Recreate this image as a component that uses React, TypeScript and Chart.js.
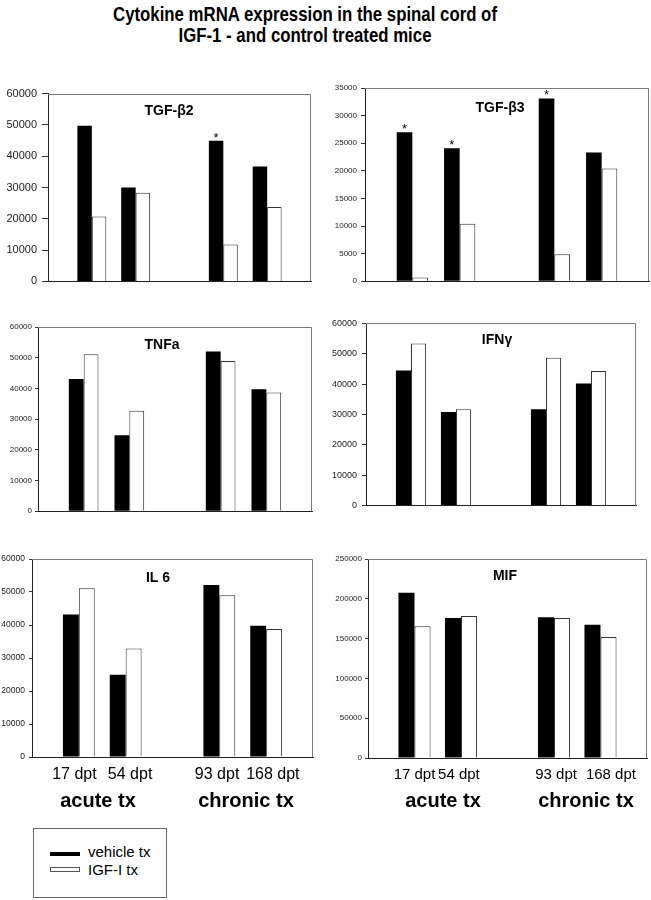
import React, { useEffect, useRef } from 'react';
import { Chart, registerables } from 'chart.js';

Chart.register(...registerables);

// ---------- data ----------
const categories = ['', '17 dpt', '54 dpt', '', '93 dpt', '168 dpt', ''];

const tgfb2Vehicle = [null, 49700, 30000, null, 44900, 36700, null];
const tgfb2Igf = [null, 20700, 28300, null, 11800, 23800, null];

const tgfb3Vehicle = [null, 27000, 24100, null, 33100, 23300, null];
const tgfb3Igf = [null, 650, 10400, null, 4900, 20400, null];

const tnfVehicle = [null, 43100, 24700, null, 52000, 39700, null];
const tnfIgf = [null, 51100, 32700, null, 48900, 38700, null];

const ifnVehicle = [null, 44500, 30800, null, 31700, 40200, null];
const ifnIgf = [null, 53400, 31700, null, 48700, 44300, null];

const il6Vehicle = [null, 43200, 24900, null, 52100, 39800, null];
const il6Igf = [null, 51100, 32900, null, 49000, 38800, null];

const mifVehicle = [null, 207700, 175900, null, 176700, 167500, null];
const mifIgf = [null, 165400, 178400, null, 175900, 152000, null];

const seriesNames = ['vehicle tx', 'IGF-I tx'];
const groupLabels = ['acute tx', 'chronic tx'];
const titleLines = ['Cytokine mRNA expression in the spinal cord of', 'IGF-1 - and control treated mice'];

// ---------- layout ----------
const SANS = '"Liberation Sans", Arial, Helvetica, sans-serif';

type PanelCfg = {
  title: string;
  vehicle: (number | null)[];
  igf: (number | null)[];
  max: number;
  step: number;
  stars: number[];
  panelLeft: number;
  area: { l: number; t: number; r: number; b: number };
  yFont: number;
  tickLen: number;
  tickPad: number;
  catPct: number;
  showX: boolean;
  xFont: number;
  xPad: number[]; // spaces to nudge tick text: + leading, - trailing
  titleX: number;
  titleY: number;
};

const panels: PanelCfg[] = [
  {
    title: 'TGF-\u03b22', vehicle: tgfb2Vehicle, igf: tgfb2Igf, max: 60000, step: 10000, stars: [4],
    panelLeft: 0, area: { l: 48, t: 92, r: 311, b: 292 }, yFont: 11, tickLen: 6, tickPad: 5,
    catPct: 0.66, showX: false, xFont: 16, xPad: [0, 0, 0, 0, 0, 0, 0], titleX: 169, titleY: 115,
  },
  {
    title: 'TGF-\u03b23', vehicle: tgfb3Vehicle, igf: tgfb3Igf, max: 35000, step: 5000, stars: [1, 2, 4],
    panelLeft: 330, area: { l: 365, t: 88, r: 649, b: 289 }, yFont: 8, tickLen: 4, tickPad: 4,
    catPct: 0.66, showX: false, xFont: 15, xPad: [0, 0, 0, 0, 0, 0, 0], titleX: 500, titleY: 112,
  },
  {
    title: 'TNFa', vehicle: tnfVehicle, igf: tnfIgf, max: 60000, step: 10000, stars: [],
    panelLeft: 0, area: { l: 38, t: 327, r: 312, b: 518 }, yFont: 8, tickLen: 3, tickPad: 3,
    catPct: 0.65, showX: false, xFont: 16, xPad: [0, 0, 0, 0, 0, 0, 0], titleX: 162, titleY: 349,
  },
  {
    title: 'IFN\u03b3', vehicle: ifnVehicle, igf: ifnIgf, max: 60000, step: 10000, stars: [],
    panelLeft: 330, area: { l: 366, t: 323, r: 636, b: 515 }, yFont: 9, tickLen: 4, tickPad: 5,
    catPct: 0.67, showX: false, xFont: 15, xPad: [0, 0, 0, 0, 0, 0, 0], titleX: 497, titleY: 344,
  },
  {
    title: 'IL 6', vehicle: il6Vehicle, igf: il6Igf, max: 60000, step: 10000, stars: [],
    panelLeft: 0, area: { l: 32, t: 559, r: 313, b: 757 }, yFont: 8.5, tickLen: 3, tickPad: 4,
    catPct: 0.68, showX: true, xFont: 16, xPad: [0, -2, 2, 0, -1, 3, 0], titleX: 158, titleY: 582,
  },
  {
    title: 'MIF', vehicle: mifVehicle, igf: mifIgf, max: 250000, step: 50000, stars: [],
    panelLeft: 330, area: { l: 368, t: 559, r: 647, b: 758 }, yFont: 8, tickLen: 3, tickPad: 3,
    catPct: 0.69, showX: true, xFont: 15, xPad: [0, 0, -1, 0, 1, 5, 0], titleX: 505, titleY: 580,
  },
];

const PT = 10;
const PR = 3;

function padLabel(text: string, n: number) {
  if (n > 0) return ' '.repeat(n) + text;
  if (n < 0) return text + ' '.repeat(-n);
  return text;
}

function Panel({ cfg }: { cfg: PanelCfg }) {
  const ref = useRef<HTMLCanvasElement>(null);
  const yW = cfg.area.l - cfg.panelLeft;
  const xH = cfg.showX ? 34 : 1;
  const cl = cfg.panelLeft;
  const ct = cfg.area.t - PT;
  const cw = cfg.area.r - cfg.area.l + yW + PR;
  const ch = cfg.area.b - cfg.area.t + PT + xH;

  useEffect(() => {
    const decor = {
      id: 'decor',
      beforeDatasetsDraw(chart: any) {
        const { ctx, chartArea } = chart;
        const { left, top, right, bottom } = chartArea;
        ctx.save();
        ctx.strokeStyle = '#7a7a7a';
        ctx.lineWidth = 1;
        ctx.beginPath();
        ctx.moveTo(left, Math.round(top) + 0.5);
        ctx.lineTo(Math.round(right) - 0.5, Math.round(top) + 0.5);
        ctx.lineTo(Math.round(right) - 0.5, bottom);
        ctx.stroke();
        ctx.restore();
      },
      afterDatasetsDraw(chart: any) {
        const { ctx } = chart;
        ctx.save();
        ctx.fillStyle = '#000';
        ctx.textAlign = 'center';
        ctx.textBaseline = 'alphabetic';
        ctx.font = `bold 14px ${SANS}`;
        ctx.fillText(cfg.title, cfg.titleX - cl, cfg.titleY - ct);
        const meta = chart.getDatasetMeta(0);
        ctx.font = `13px ${SANS}`;
        cfg.stars.forEach((i) => {
          const el = meta.data[i];
          if (el) ctx.fillText('*', el.x, el.y + 1);
        });
        ctx.restore();
      },
    };

    const chart = new Chart(ref.current as HTMLCanvasElement, {
      type: 'bar',
      data: {
        labels: categories,
        datasets: [
          {
            label: seriesNames[0],
            data: cfg.vehicle,
            backgroundColor: '#000',
            borderColor: '#000',
            borderWidth: 0,
            categoryPercentage: cfg.catPct,
            barPercentage: 1,
          },
          {
            label: seriesNames[1],
            data: cfg.igf,
            backgroundColor: '#fff',
            borderColor: '#333',
            borderWidth: 1,
            categoryPercentage: cfg.catPct,
            barPercentage: 1,
          },
        ],
      },
      options: {
        responsive: false,
        animation: false,
        layout: { padding: { left: 0, right: PR, top: PT, bottom: 0 } },
        plugins: {
          legend: { display: false },
          tooltip: { enabled: false },
          title: { display: false },
        },
        scales: {
          x: {
            type: 'category',
            offset: false,
            grid: { display: false, offset: false },
            border: { display: true, color: '#222', width: 1 },
            ticks: {
              display: cfg.showX,
              autoSkip: false,
              maxRotation: 0,
              minRotation: 0,
              padding: 0,
              color: '#000',
              font: { family: SANS, size: cfg.xFont },
              callback: (_v: any, i: number) => padLabel(categories[i], cfg.xPad[i] || 0),
            },
            afterFit: (s: any) => {
              s.height = xH;
            },
          },
          y: {
            min: 0,
            max: cfg.max,
            ticks: {
              stepSize: cfg.step,
              callback: (v: any) => String(v),
              color: '#222',
              padding: cfg.tickPad,
              font: { family: SANS, size: cfg.yFont },
            },
            grid: { drawOnChartArea: false, drawTicks: true, tickLength: cfg.tickLen, color: '#333' },
            border: { display: true, color: '#222', width: 1 },
            afterFit: (s: any) => {
              s.width = yW;
            },
          },
        },
      } as any,
      plugins: [decor],
    });
    return () => chart.destroy();
  }, []);

  return (
    <div style={{ position: 'absolute', left: cl, top: ct, width: cw, height: ch }}>
      <canvas ref={ref} width={cw} height={ch} style={{ width: cw, height: ch, display: 'block' }} />
    </div>
  );
}

const groupText = [
  { text: groupLabels[0], cx: 98 },
  { text: groupLabels[1], cx: 246 },
  { text: groupLabels[0], cx: 443 },
  { text: groupLabels[1], cx: 586 },
];

const titleLineStyle: React.CSSProperties = {
  transform: 'scaleX(0.80)',
  transformOrigin: '305px 50%',
  whiteSpace: 'nowrap',
};

export default function App() {
  return (
    <div style={{ position: 'absolute', left: 0, top: 0, width: 651, height: 900, background: '#fff', overflow: 'hidden' }}>
      <div
        style={{
          position: 'absolute', left: 0, top: 3, width: 610, textAlign: 'center',
          fontFamily: SANS, fontWeight: 'bold', fontSize: 21, lineHeight: '21px', color: '#000',
        }}
      >
        <div style={titleLineStyle}>{titleLines[0]}</div>
        <div style={titleLineStyle}>{titleLines[1]}</div>
      </div>

      {panels.map((p, i) => (
        <Panel key={i} cfg={p} />
      ))}

      {groupText.map((g, i) => (
        <div
          key={i}
          style={{
            position: 'absolute', left: g.cx - 80, width: 160, top: 790, textAlign: 'center',
            fontFamily: SANS, fontWeight: 'bold', fontSize: 20, lineHeight: '20px', color: '#000',
          }}
        >
          {g.text}
        </div>
      ))}

      <div
        style={{
          position: 'absolute', left: 33, top: 828, width: 132, height: 68,
          border: '1px solid #666', background: '#fff',
        }}
      />
      <div style={{ position: 'absolute', left: 50, top: 852, width: 30, height: 4, background: '#000' }} />
      <div style={{ position: 'absolute', left: 50, top: 867, width: 28, height: 3, border: '1px solid #555', background: '#fff' }} />
      <div style={{ position: 'absolute', left: 88, top: 844, fontFamily: SANS, fontSize: 15, lineHeight: '15px', color: '#000', whiteSpace: 'nowrap' }}>
        {seriesNames[0]}
      </div>
      <div style={{ position: 'absolute', left: 88, top: 862, fontFamily: SANS, fontSize: 15, lineHeight: '15px', color: '#000', whiteSpace: 'nowrap' }}>
        {seriesNames[1]}
      </div>
    </div>
  );
}
